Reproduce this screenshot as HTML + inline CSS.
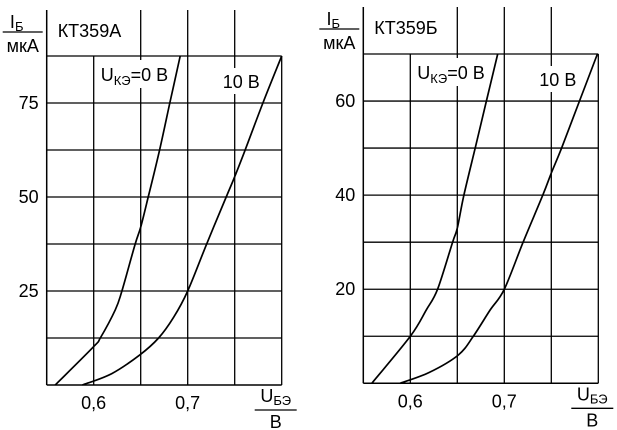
<!DOCTYPE html>
<html><head><meta charset="utf-8"><style>
body{margin:0;background:#fff;}
svg{display:block;font-family:"Liberation Sans",Arial,sans-serif;}
</style></head><body>
<svg id="c" width="617" height="430" viewBox="0 0 617 430"></svg>
<script>
const xTicks=[0.6,0.7];
const xGrid=[0.6,0.65,0.7,0.75,0.8];
const aYTicks=[25,50,75];
const aYGrid=[12.5,25,37.5,50,62.5,75,87.5];
const a0X=[0.559,0.6,0.607,0.623,0.63,0.644,0.65,0.658,0.67,0.681,0.692];
const a0Y=[0,10.2,12.5,20,25,37.4,42,50,62.4,75,87.5];
const a10X=[0.588,0.619,0.649,0.669,0.685,0.7,0.72,0.741,0.75,0.761,0.78,0.8];
const a10Y=[0,3,8,12.5,18,25,37.4,50,55.4,62.4,75,87.5];
const bYTicks=[20,40,60];
const bYGrid=[10,20,30,40,50,60,70];
const b0X=[0.559,0.6,0.617,0.629,0.645,0.65,0.657,0.669,0.681,0.693];
const b0Y=[0,10,15.6,20,30,33,40,50,60,70];
const b10X=[0.589,0.62,0.651,0.667,0.685,0.7,0.72,0.741,0.75,0.761,0.78,0.799];
const b10Y=[0,2.3,6,10,15.6,20,30,40,44.7,50,60,70];

const NS="http://www.w3.org/2000/svg";
const svg=document.getElementById('c');
function mk(t,a,p){const e=document.createElementNS(NS,t);for(const k in a)e.setAttribute(k,a[k]);(p||svg).appendChild(e);return e;}
function txt(x,y,s,size,anchor,p){const e=mk('text',{x:x,y:y,'font-size':size,'text-anchor':anchor||'middle',fill:'#000'},p);e.innerHTML=s;return e;}
function smooth(pts){
  let d='M'+pts[0][0].toFixed(1)+','+pts[0][1].toFixed(1);
  for(let i=0;i<pts.length-1;i++){
    const p0=pts[i-1]||pts[i],p1=pts[i],p2=pts[i+1],p3=pts[i+2]||p2;
    const c1=[p1[0]+(p2[0]-p0[0])/6,p1[1]+(p2[1]-p0[1])/6];
    const c2=[p2[0]-(p3[0]-p1[0])/6,p2[1]-(p3[1]-p1[1])/6];
    d+=' C'+c1.map(v=>v.toFixed(1)).join(',')+' '+c2.map(v=>v.toFixed(1)).join(',')+' '+p2[0].toFixed(1)+','+p2[1].toFixed(1);
  }
  return d;
}

function chart(o){
  const g=mk('g',{});
  
  
  const X=v=>o.x0+(v-0.55)/0.25*(o.x1-o.x0);
  const Y=v=>o.y0-v/o.ymax*(o.y0-o.y1);
  o.yGrid.forEach(v=>{const l=mk('line',{x1:o.x0,x2:o.x1,y1:Y(v),y2:Y(v),stroke:'#000','stroke-width':1.3},g);
    });
  mk('line',{x1:o.x0,x2:o.x1,y1:o.y0,y2:o.y0,stroke:'#000','stroke-width':1.5},g);
  xGrid.forEach(v=>{const top=(v===0.6||v===0.8)?Y(o.ymax):o.ytop;
    const l=mk('line',{x1:X(v),x2:X(v),y1:top,y2:o.y0,stroke:'#000','stroke-width':1.3},g);
    });
  mk('line',{x1:o.x0,x2:o.x0,y1:o.ytop,y2:o.y0,stroke:'#000','stroke-width':1.5},g);
  mk('rect',{x:X(0.65)-45,y:Y(o.ymax)+4,width:82,height:28,fill:'#fff'},g);
  mk('rect',{x:X(0.75)-22,y:Y(o.ymax)+12,width:44,height:26,fill:'#fff'},g);
  [[o.c0x,o.c0y,'curve-0v'],[o.c10x,o.c10y,'curve-10v']].forEach(([xs,ys,n])=>{
    const pts=xs.map((v,i)=>[X(v),Y(ys[i])]);
    const p=mk('path',{d:smooth(pts),fill:'none',stroke:'#000','stroke-width':1.7,'stroke-linejoin':'round'},g);
    });
  o.yTicks.forEach(v=>{const t=txt(o.x0-8,Y(v)+6,String(v),18,'end',g);
    });
  xTicks.forEach(v=>{const t=txt(X(v),o.y0+24,String(v).replace('.',','),18,'middle',g);
    });
  const tt=txt(o.x0+11,o.ytop+27,o.title,18,'start',g);
  
  const l0=txt(X(0.65)-40,Y(o.ymax)+25,'U<tspan font-size="13" dy="4">КЭ</tspan><tspan dy="-4">=0 В</tspan>',18,'start',g);
  
  const l1=txt(X(0.75)-12,Y(o.ymax)+32,'10 В',18,'start',g);
  
  const yt=mk('g',{},g);
  txt(o.x0-30,o.ytop+18,'I<tspan font-size="13" dy="3">Б</tspan>',18,'middle',yt);
  mk('line',{x1:o.x0-44,x2:o.x0-4,y1:o.ytop+22,y2:o.ytop+22,stroke:'#000','stroke-width':1.3},yt);
  txt(o.x0-24,o.ytop+42,'мкА',18,'middle',yt);
  const xt=mk('g',{},g);
  txt(o.x1-6,o.y0+17,'U<tspan font-size="13" dy="3">БЭ</tspan>',18,'middle',xt);
  mk('line',{x1:o.x1-27,x2:o.x1+15,y1:o.y0+25,y2:o.y0+25,stroke:'#000','stroke-width':1.3},xt);
  txt(o.x1-6,o.y0+43,'В',18,'middle',xt);
}
chart({name:'chart-kt359a',title:'КТ359А',x0:46.7,x1:281.7,y0:385,y1:56,ymax:87.5,ytop:10,
  yGrid:aYGrid,yTicks:aYTicks,c0x:a0X,c0y:a0Y,c10x:a10X,c10y:a10Y});
chart({name:'chart-kt359b',title:'КТ359Б',x0:363.3,x1:598.3,y0:383.3,y1:54,ymax:70,ytop:7,
  yGrid:bYGrid,yTicks:bYTicks,c0x:b0X,c0y:b0Y,c10x:b10X,c10y:b10Y});
</script>
</body></html>
